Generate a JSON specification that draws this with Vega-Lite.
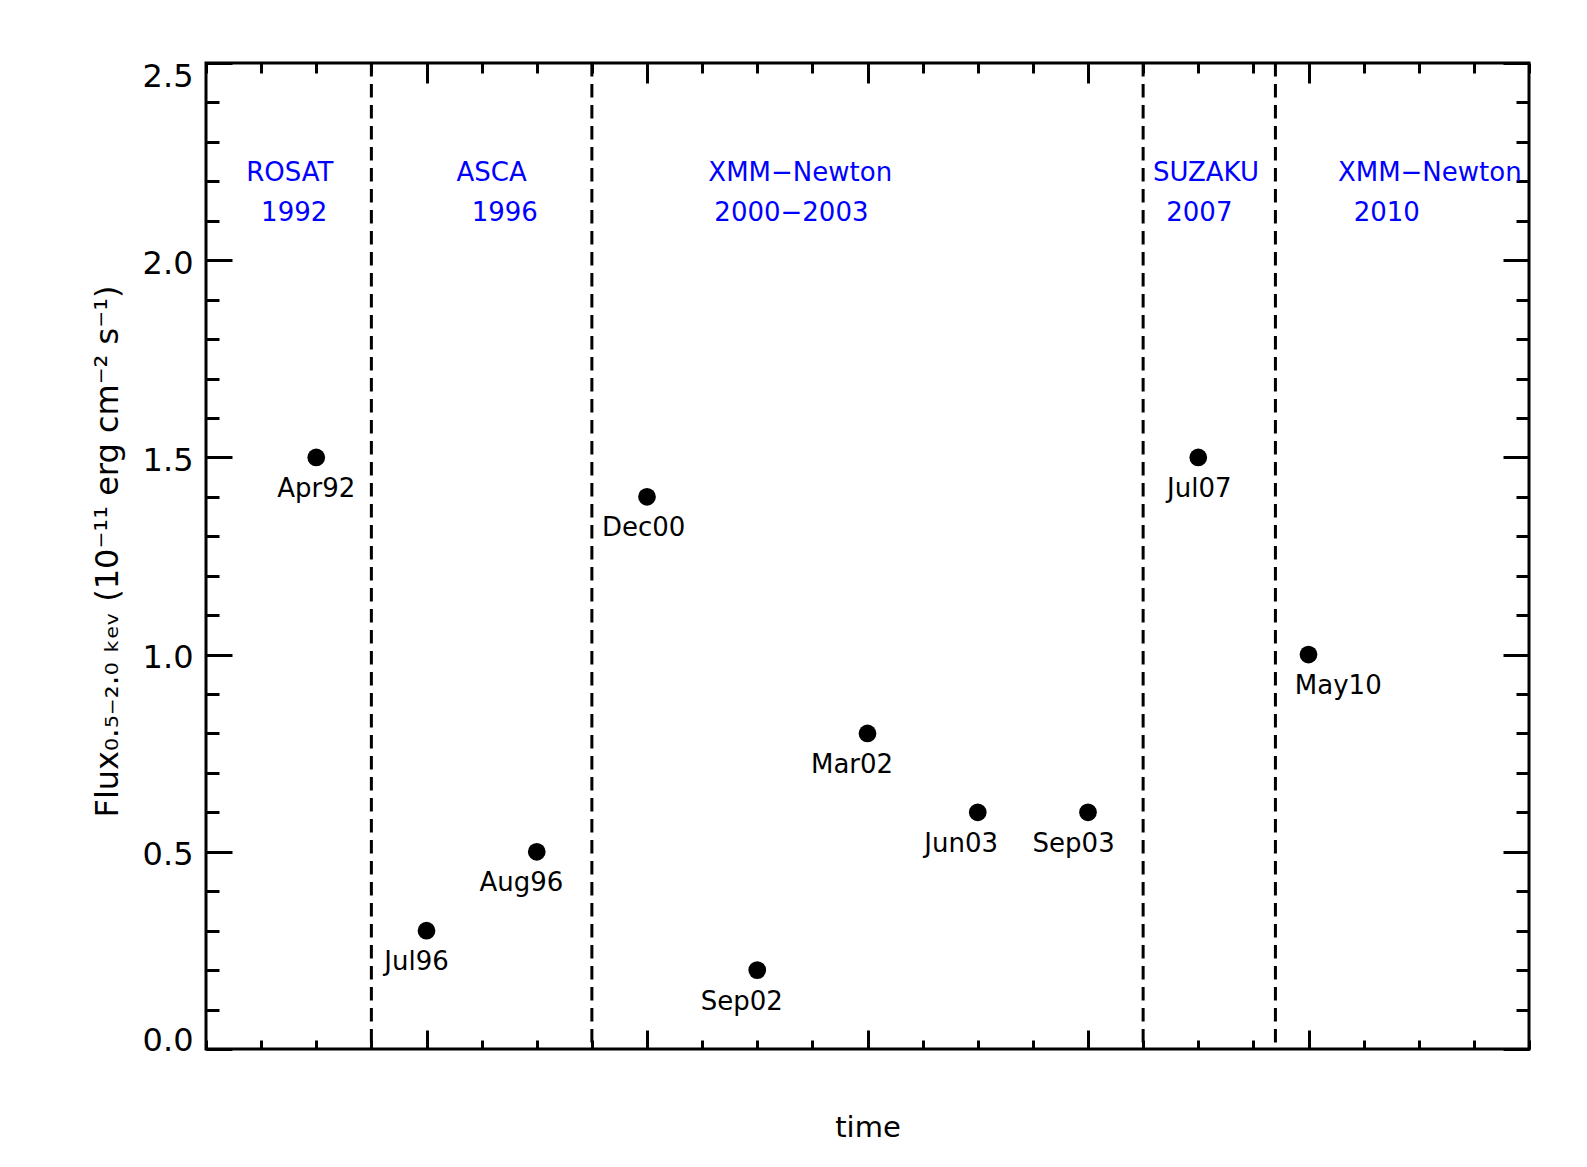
{
  "$schema": "https://vega.github.io/schema/vega-lite/v6.json",
  "width": 1323,
  "height": 986,
  "autosize": {"type": "none"},
  "padding": {"left": 206, "top": 63, "right": 58, "bottom": 118},
  "background": "white",
  "config": {
    "view": {"stroke": "black", "strokeWidth": 3},
    "axis": {
      "domain": false,
      "grid": false,
      "tickColor": "black",
      "tickWidth": 3,
      "labelColor": "black",
      "titleColor": "black",
      "labelFont": "DejaVu Sans",
      "titleFont": "DejaVu Sans",
      "titleFontWeight": "normal"
    },
    "text": {"font": "DejaVu Sans"}
  },
  "datasets": {
    "observations": [
      {"date": "Apr92", "t": 1, "flux": 1.5, "label_t": 1.0, "label_flux": 1.4},
      {"date": "Jul96", "t": 2, "flux": 0.3, "label_t": 1.91, "label_flux": 0.2},
      {"date": "Aug96", "t": 3, "flux": 0.5, "label_t": 2.86, "label_flux": 0.4},
      {"date": "Dec00", "t": 4, "flux": 1.4, "label_t": 3.97, "label_flux": 1.3},
      {"date": "Sep02", "t": 5, "flux": 0.2, "label_t": 4.86, "label_flux": 0.1},
      {"date": "Mar02", "t": 6, "flux": 0.8, "label_t": 5.86, "label_flux": 0.7},
      {"date": "Jun03", "t": 7, "flux": 0.6, "label_t": 6.85, "label_flux": 0.5},
      {"date": "Sep03", "t": 8, "flux": 0.6, "label_t": 7.87, "label_flux": 0.5},
      {"date": "Jul07", "t": 9, "flux": 1.5, "label_t": 9.01, "label_flux": 1.4},
      {"date": "May10", "t": 10, "flux": 1.0, "label_t": 10.27, "label_flux": 0.9}
    ],
    "boundaries": [{"t": 1.5}, {"t": 3.5}, {"t": 8.5}, {"t": 9.7}],
    "missions": [
      {"mission": "ROSAT", "year": "1992", "name_t": 0.76, "year_t": 0.8, "name_level": 2.2, "year_level": 2.1},
      {"mission": "ASCA", "year": "1996", "name_t": 2.59, "year_t": 2.71, "name_level": 2.2, "year_level": 2.1},
      {"mission": "XMM−Newton", "year": "2000−2003", "name_t": 5.39, "year_t": 5.31, "name_level": 2.2, "year_level": 2.1},
      {"mission": "SUZAKU", "year": "2007", "name_t": 9.07, "year_t": 9.01, "name_level": 2.2, "year_level": 2.1},
      {"mission": "XMM−Newton", "year": "2010", "name_t": 11.1, "year_t": 10.71, "name_level": 2.2, "year_level": 2.1}
    ]
  },
  "resolve": {"axis": {"x": "independent", "y": "independent"}},
  "layer": [
    {
      "data": {"name": "boundaries"},
      "mark": {"type": "rule", "color": "black", "strokeWidth": 3, "strokeDash": [13.5, 7.5]},
      "encoding": {
        "x": {
          "field": "t", "type": "quantitative",
          "scale": {"domain": [0, 12], "nice": false, "zero": false},
          "axis": {
            "orient": "bottom", "values": [2, 4, 6, 8, 10], "tickSize": -19,
            "labels": false, "title": "time", "titleFontSize": 29,
            "titleY": 87, "titleBaseline": "alphabetic"
          }
        }
      }
    },
    {
      "data": {"name": "observations"},
      "mark": {"type": "point", "shape": "circle", "filled": true, "color": "black", "opacity": 1, "size": 314},
      "encoding": {
        "x": {
          "field": "t", "type": "quantitative",
          "scale": {"domain": [0, 12], "nice": false, "zero": false},
          "axis": {
            "orient": "bottom", "tickSize": -9, "labels": false, "title": null,
            "values": [0, 0.5, 1, 1.5, 2, 2.5, 3, 3.5, 4, 4.5, 5, 5.5, 6, 6.5, 7, 7.5, 8, 8.5, 9, 9.5, 10, 10.5, 11, 11.5, 12]
          }
        },
        "y": {
          "field": "flux", "type": "quantitative",
          "scale": {"domain": [0, 2.5], "nice": false, "zero": false},
          "axis": {
            "orient": "left", "values": [0, 0.5, 1, 1.5, 2, 2.5], "format": ".1f",
            "tickSize": -26, "labelPadding": 39, "labelFontSize": 32,
            "labelFlush": true, "labelFlushOffset": 5, "labelOffset": 3,
            "title": "Flux₀.₅₋₂.₀ ₖₑᵥ (10⁻¹¹ erg cm⁻² s⁻¹)",
            "titleFontSize": 32, "titleX": -89, "titleY": 488,
            "titleAngle": 270, "titleAlign": "center", "titleBaseline": "alphabetic"
          }
        }
      }
    },
    {
      "data": {"name": "observations"},
      "mark": {"type": "text", "align": "center", "baseline": "alphabetic", "fontSize": 26, "color": "black"},
      "encoding": {
        "x": {
          "field": "label_t", "type": "quantitative",
          "scale": {"domain": [0, 12], "nice": false, "zero": false},
          "axis": {"orient": "top", "values": [2, 4, 6, 8, 10], "tickSize": -20, "labels": false, "title": null}
        },
        "y": {
          "field": "label_flux", "type": "quantitative",
          "scale": {"domain": [0, 2.5], "nice": false, "zero": false},
          "axis": {
            "orient": "left", "tickSize": -13, "labels": false, "title": null,
            "values": [0, 0.1, 0.2, 0.3, 0.4, 0.5, 0.6, 0.7, 0.8, 0.9, 1, 1.1, 1.2, 1.3, 1.4, 1.5, 1.6, 1.7, 1.8, 1.9, 2, 2.1, 2.2, 2.3, 2.4, 2.5]
          }
        },
        "text": {"field": "date"}
      }
    },
    {
      "data": {"name": "missions"},
      "mark": {"type": "text", "align": "center", "baseline": "alphabetic", "fontSize": 26, "color": "#0000FF"},
      "encoding": {
        "x": {
          "field": "name_t", "type": "quantitative",
          "scale": {"domain": [0, 12], "nice": false, "zero": false},
          "axis": {
            "orient": "top", "tickSize": -10, "labels": false, "title": null,
            "values": [0, 0.5, 1, 1.5, 2, 2.5, 3, 3.5, 4, 4.5, 5, 5.5, 6, 6.5, 7, 7.5, 8, 8.5, 9, 9.5, 10, 10.5, 11, 11.5, 12]
          }
        },
        "y": {
          "field": "name_level", "type": "quantitative",
          "scale": {"domain": [0, 2.5], "nice": false, "zero": false},
          "axis": {"orient": "right", "values": [0, 0.5, 1, 1.5, 2, 2.5], "tickSize": -26, "labels": false, "title": null}
        },
        "text": {"field": "mission"}
      }
    },
    {
      "data": {"name": "missions"},
      "mark": {"type": "text", "align": "center", "baseline": "alphabetic", "fontSize": 26, "color": "#0000FF"},
      "encoding": {
        "x": {
          "field": "year_t", "type": "quantitative",
          "scale": {"domain": [0, 12], "nice": false, "zero": false},
          "axis": null
        },
        "y": {
          "field": "year_level", "type": "quantitative",
          "scale": {"domain": [0, 2.5], "nice": false, "zero": false},
          "axis": {
            "orient": "right", "tickSize": -13, "labels": false, "title": null,
            "values": [0, 0.1, 0.2, 0.3, 0.4, 0.5, 0.6, 0.7, 0.8, 0.9, 1, 1.1, 1.2, 1.3, 1.4, 1.5, 1.6, 1.7, 1.8, 1.9, 2, 2.1, 2.2, 2.3, 2.4, 2.5]
          }
        },
        "text": {"field": "year"}
      }
    }
  ]
}
